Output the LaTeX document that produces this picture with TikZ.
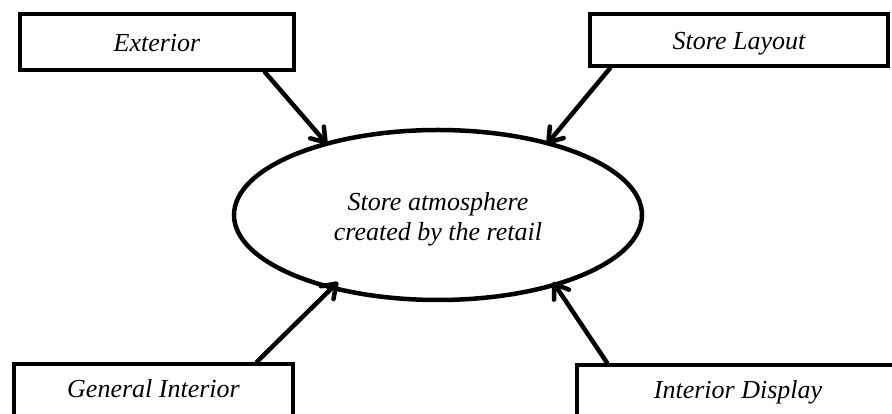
\documentclass[tikz,border=0pt]{standalone}
\usepackage{fontspec}
\setmainfont{Liberation Serif}
\usetikzlibrary{shapes.geometric,arrows.meta}

\begin{document}
\begin{tikzpicture}[x=1pt,y=1pt,
  every node/.style={font=\fontsize{26}{30}\selectfont\itshape},
  factor/.style={draw, line width=4.5pt, rectangle, inner sep=0pt, fill=white},
  upper/.style={text height=24pt, text depth=4pt},
  lower/.style={text height=17pt, text depth=6pt},
  centre/.style={draw, line width=4.5pt, ellipse, inner sep=0pt,
    minimum width=408pt, minimum height=170pt},
  feed/.style={line width=4.5pt, line cap=round,
    -{Straight Barb[length=13pt,width=18pt,line width=4.5pt,round]}}
]
\useasboundingbox (0,0) rectangle (892,414);

% four contributing factors
\node[factor, upper, minimum width=274pt, minimum height=56pt] (ext)  at (157,372) {Exterior};
\node[factor, upper, minimum width=298pt, minimum height=52pt] (lay)  at (739,374) {Store Layout};
\node[factor, lower, minimum width=279pt, minimum height=56pt] (gen)  at (153.5,22) {General Interior};
\node[factor, lower, minimum width=322pt, minimum height=56pt] (disp) at (738,21) {Interior Display};

% central outcome
\node[centre] (ell) at (438,199) {};
\node[align=center] (elltext) at ([yshift=-4pt]ell.center) {Store atmosphere\\created by the retail};

% arrows into the ellipse
\draw[feed] ([xshift=108pt]ext.south)   -- ([shift={(-111pt,71pt)}]ell.center);
\draw[feed] ([xshift=-129pt]lay.south)  -- ([shift={(109pt,71pt)}]ell.center);
\draw[feed] ([xshift=103.5pt]gen.north) -- ([shift={(-100pt,-67pt)}]ell.center);
\draw[feed] ([xshift=-131pt]disp.north) -- ([shift={(115pt,-67pt)}]ell.center);
\end{tikzpicture}
\end{document}
